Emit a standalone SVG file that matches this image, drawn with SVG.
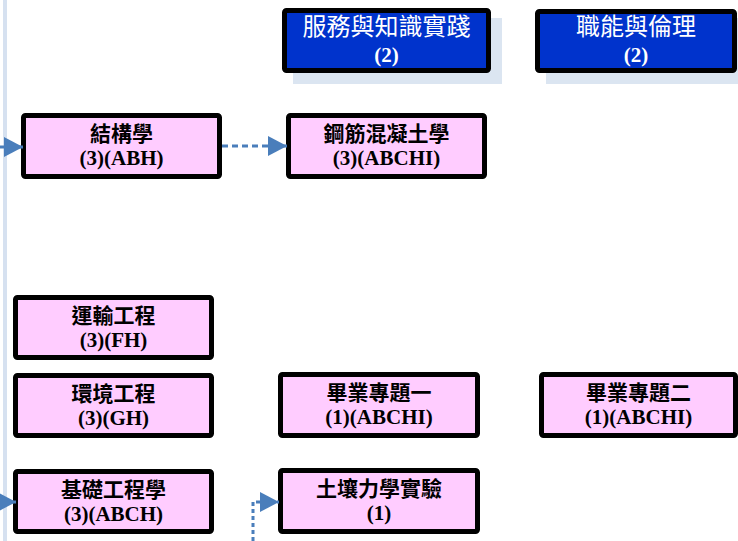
<svg xmlns="http://www.w3.org/2000/svg" width="738" height="541" viewBox="0 0 738 541">
<defs>
<style>
.pink{fill:#ffccff;stroke:#000;stroke-width:5}
.blue{fill:#0033cc;stroke:#000;stroke-width:5}
.shadow{fill:#dbe5f1}
.t1{font-family:"Noto Sans CJK TC","Noto Sans CJK SC",sans-serif;font-size:21px;font-weight:bold;fill:#000;text-anchor:middle}
.t2{font-family:"Liberation Serif",serif;font-size:21px;font-weight:bold;fill:#000;text-anchor:middle}
.w1{font-family:"Noto Sans CJK TC","Noto Sans CJK SC",sans-serif;font-size:24px;fill:#fff;text-anchor:middle}
.w2{font-family:"Liberation Serif",serif;font-size:21px;font-weight:bold;fill:#fff;text-anchor:middle}
.conn{fill:none;stroke:#4a7ebb;stroke-width:3}
.dash{stroke-dasharray:6 4}
.dot{stroke-dasharray:4 3}
</style>
<marker id="ah" markerUnits="userSpaceOnUse" markerWidth="19" markerHeight="20" refX="19" refY="10" orient="auto">
<path d="M0,0 L19,10 L0,20 z" fill="#4a7ebb"/>
</marker>
</defs>
<rect x="3" y="0" width="4" height="541" fill="#d6e1f0"/>
<g id="n-service">
<rect class="shadow" x="293" y="18" width="209" height="66"/>
<rect class="blue" x="284.5" y="10.5" width="204" height="60" rx="2"/>
<text class="w1" x="386.5" y="35">服務與知識實踐</text>
<text class="w2" x="386.5" y="62">(2)</text>
</g>
<g id="n-ethics">
<rect class="shadow" x="546" y="18" width="200" height="66"/>
<rect class="blue" x="537.5" y="11.5" width="197" height="59" rx="2"/>
<text class="w1" x="636" y="35">職能與倫理</text>
<text class="w2" x="636" y="62">(2)</text>
</g>
<g id="n-struct">
<rect class="pink" x="23.5" y="115.5" width="196" height="61" rx="2"/>
<text class="t1" x="121.5" y="141">結構學</text>
<text class="t2" x="121.5" y="165">(3)(ABH)</text>
</g>
<g id="n-rc">
<rect class="pink" x="288.5" y="115.5" width="196" height="61" rx="2"/>
<text class="t1" x="386.5" y="141">鋼筋混凝土學</text>
<text class="t2" x="386.5" y="165">(3)(ABCHI)</text>
</g>
<g id="n-transport">
<rect class="pink" x="15.5" y="297.5" width="196" height="60" rx="2"/>
<text class="t1" x="113.5" y="323">運輸工程</text>
<text class="t2" x="113.5" y="347">(3)(FH)</text>
</g>
<g id="n-env">
<rect class="pink" x="15.5" y="375.5" width="196" height="60" rx="2"/>
<text class="t1" x="113.5" y="401">環境工程</text>
<text class="t2" x="113.5" y="425">(3)(GH)</text>
</g>
<g id="n-found">
<rect class="pink" x="15.5" y="471.5" width="196" height="60" rx="2"/>
<text class="t1" x="113.5" y="497">基礎工程學</text>
<text class="t2" x="113.5" y="521">(3)(ABCH)</text>
</g>
<g id="n-proj1">
<rect class="pink" x="280.5" y="374.5" width="197" height="61" rx="2"/>
<text class="t1" x="379" y="400">畢業專題一</text>
<text class="t2" x="379" y="424">(1)(ABCHI)</text>
</g>
<g id="n-proj2">
<rect class="pink" x="541.5" y="374.5" width="194" height="61" rx="2"/>
<text class="t1" x="638.5" y="400">畢業專題二</text>
<text class="t2" x="638.5" y="424">(1)(ABCHI)</text>
</g>
<g id="n-soillab">
<rect class="pink" x="280.5" y="470.5" width="197" height="61" rx="2"/>
<text class="t1" x="379" y="496">土壤力學實驗</text>
<text class="t2" x="379" y="520">(1)</text>
</g>
<g id="connectors">
<path class="conn" d="M-5,147 H23" marker-end="url(#ah)"/>
<path class="conn dash" d="M222,146 H287" marker-end="url(#ah)"/>
<path class="conn" d="M-5,502 H16" marker-end="url(#ah)"/>
<path class="conn dot" d="M253,541 V502 H279" marker-end="url(#ah)"/>
</g>
</svg>
